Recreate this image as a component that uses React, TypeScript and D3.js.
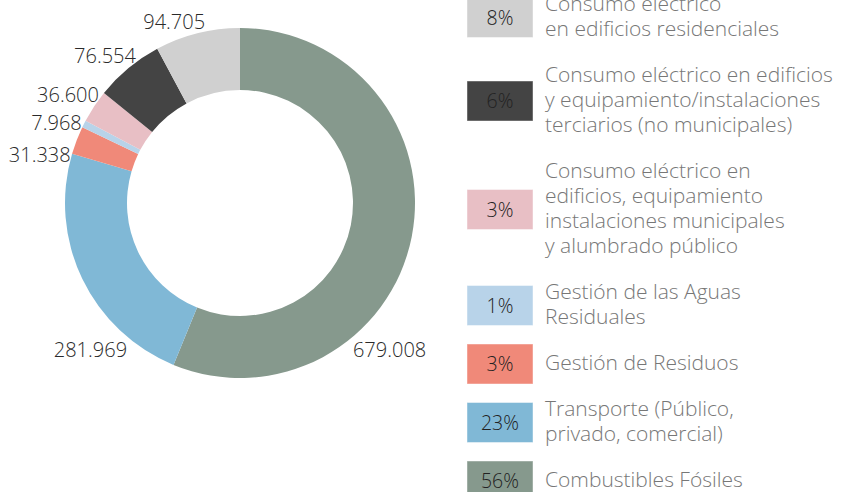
import React from "react";
import * as d3 from "d3";

// ---- data (clockwise from 12 o'clock) ----
const categories = [
  "Combustibles Fósiles",
  "Transporte",
  "Gestión de Residuos",
  "Gestión de las Aguas Residuales",
  "Consumo eléctrico municipal",
  "Consumo eléctrico terciario",
  "Consumo eléctrico residencial",
];
const values = [679008, 281969, 31338, 7968, 36600, 76554, 94705];
const colors = ["#86998d", "#80b8d6", "#f08979", "#b8d3e9", "#e8bfc5", "#444444", "#d0d0d0"];
// legend labels (wrapped lines), listed in legend order (index into categories)
const legendOrder = [6, 5, 4, 3, 2, 1, 0];
const legendLines: string[][] = [
  ["Combustibles Fósiles"],
  ["Transporte (Público,", "privado, comercial)"],
  ["Gestión de Residuos"],
  ["Gestión de las Aguas", "Residuales"],
  ["Consumo eléctrico en", "edificios, equipamiento", "instalaciones municipales", "y alumbrado público"],
  ["Consumo eléctrico en edificios", "y equipamiento/instalaciones", "terciarios (no municipales)"],
  ["Consumo eléctrico", "en edificios residenciales"],
];

// label placement tweaks (layout only)
const labelNudgeDeg = [41.3, -26.8, -5.2, 0, 3.9, 4.3, 3.2];
const labelRadiusAdd = [10.4, 10.4, 1, 2.4, 2.6, 5, 9.4];

const W = 845;
const H = 492;
const cx = 240;
const cy = 203;
const R = 175;
const r0 = 113;

const esLocale = d3.formatLocale({ decimal: ",", thousands: ".", grouping: [3], currency: ["", "€"] });
const fmt = esLocale.format(",d");

export default function App() {
  const total = d3.sum(values);
  const pie = d3.pie<number>().sort(null).value((d) => d);
  const arcs = pie(values);
  const arcGen = d3.arc<d3.PieArcDatum<number>>().innerRadius(r0).outerRadius(R);

  const font = "'Open Sans', 'DejaVu Sans', sans-serif";

  // legend layout
  const lh = 25;
  const itemGap = 46;
  let baseline = 10.5;
  const legendItems = legendOrder.map((ci) => {
    const lines = legendLines[ci];
    const first = baseline;
    const last = first + (lines.length - 1) * lh;
    baseline = last + itemGap;
    const center = (first + last) / 2 - 5.5;
    return { ci, lines, first, center };
  });

  return (
    <svg
      width={W}
      height={H}
      style={{ position: "absolute", left: 0, top: 0, background: "#fff" }}
      fontFamily={font}
    >
      <g transform={`translate(${cx},${cy})`}>
        {arcs.map((a, i) => (
          <path key={i} d={arcGen(a) || ""} fill={colors[i]} />
        ))}
        {arcs.map((a, i) => {
          const mid = (a.startAngle + a.endAngle) / 2 + (labelNudgeDeg[i] * Math.PI) / 180;
          const rr = R + labelRadiusAdd[i];
          const x = rr * Math.sin(mid);
          const y = -rr * Math.cos(mid);
          return (
            <text
              key={"l" + i}
              x={x}
              y={y}
              dy="0.35em"
              textAnchor={x < 0 ? "end" : "start"}
              fontSize={20}
              fontWeight={300}
              fill="#2a2a2a"
            >
              {fmt(values[i])}
            </text>
          );
        })}
      </g>
      <g>
        {legendItems.map((it, k) => (
          <g key={k}>
            <rect
              x={467}
              y={it.center - 20}
              width={66}
              height={40}
              fill={colors[it.ci]}
              stroke="rgba(255,255,255,0.45)"
              strokeWidth={1}
            />
            <text
              x={500}
              y={it.center}
              dy="0.36em"
              textAnchor="middle"
              fontSize={19.5}
              fontWeight={300}
              fill="#222"
            >
              {Math.round((values[it.ci] / total) * 100) + "%"}
            </text>
            {it.lines.map((ln, j) => (
              <text
                key={j}
                x={545}
                y={it.first + j * lh}
                fontSize={21}
                fontWeight={300}
                fill="#777"
              >
                {ln}
              </text>
            ))}
          </g>
        ))}
      </g>
    </svg>
  );
}
